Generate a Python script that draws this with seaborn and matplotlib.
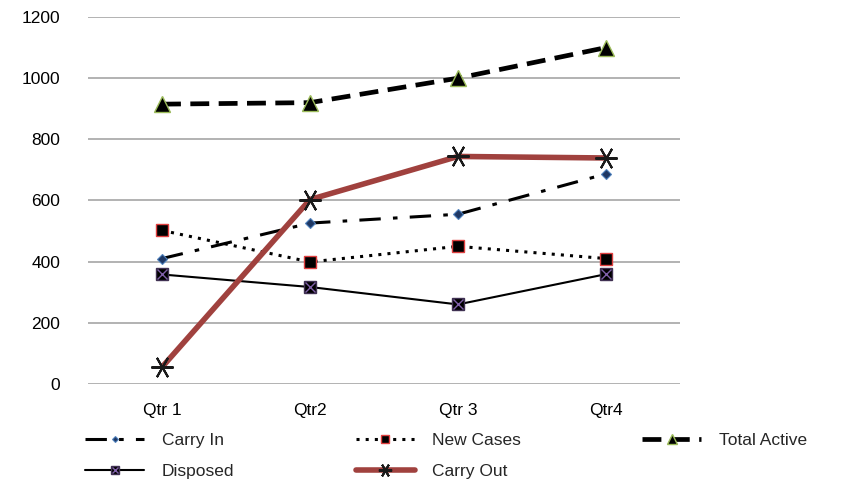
import numpy as np
import pandas as pd
import matplotlib
matplotlib.use("Agg")
import matplotlib.pyplot as plt
import seaborn as sns
from matplotlib.legend_handler import HandlerTuple

quarters = ["Qtr 1", "Qtr2", "Qtr 3", "Qtr4"]
carry_in = [410, 526, 555, 687]
new_cases = [502, 399, 450, 410]
total_active = [915, 920, 1000, 1100]
disposed = [358, 317, 260, 359]
carry_out = [55, 603, 744, 739]

sns.set_theme(style="white")
plt.rcParams["font.family"] = ["Liberation Sans", "DejaVu Sans"]

fig = plt.figure(figsize=(8.52, 4.86), dpi=100)
ax = fig.add_axes([0.1033, 0.21, 0.6948, 0.755])

x = np.arange(len(quarters))

# grid first so lines sit on top
for v in range(0, 1201, 200):
    ax.axhline(v, color="#a6a6a6", lw=1.2, zorder=0)

h_in = sns.lineplot(x=x, y=carry_in, ax=ax, color="black", lw=2.2,
                    linestyle=(0, (7, 4, 1.5, 4)),
                    marker="D", markersize=5, markerfacecolor="#1f3864",
                    markeredgecolor="#4f81bd", markeredgewidth=0.8).lines[-1]
h_new = sns.lineplot(x=x, y=new_cases, ax=ax, color="black", lw=2.2,
                     linestyle=(0, (1, 2)),
                     marker="s", markersize=9, markerfacecolor="black",
                     markeredgecolor="#e04040", markeredgewidth=1.0).lines[-1]
h_tot = sns.lineplot(x=x, y=total_active, ax=ax, color="black", lw=3.4,
                     linestyle=(0, (4, 2)),
                     marker="^", markersize=12, markerfacecolor="black",
                     markeredgecolor="#9bbb59", markeredgewidth=1.0).lines[-1]
h_dis = sns.lineplot(x=x, y=disposed, ax=ax, color="black", lw=1.5,
                     marker="s", markersize=9, markerfacecolor="black",
                     markeredgecolor="#403152", markeredgewidth=1.0).lines[-1]
h_dis_x, = ax.plot(x, disposed, linestyle="none", marker="x", markersize=7,
                   markeredgecolor="#7f5fa8", markeredgewidth=1.0, zorder=5)
h_out = sns.lineplot(x=x, y=carry_out, ax=ax, color="#a0413e", lw=4,
                     marker=(6, 2, 90), markersize=16,
                     markeredgecolor="#1a1a1a", markeredgewidth=1.5).lines[-1]

ax.set_xlim(-0.5, 3.5)
ax.set_ylim(0, 1200)
ax.set_yticks(range(0, 1201, 200))
ax.set_xticks(x)
ax.set_xticklabels(quarters)
ax.tick_params(axis="both", length=0, labelsize=12.5, colors="black")
ax.tick_params(axis="y", pad=20)
ax.tick_params(axis="x", pad=14)
for s in ax.spines.values():
    s.set_visible(False)
ax.set_xlabel("")
ax.set_ylabel("")

# column-major fill: gives rows Carry In/New Cases/Total Active, Disposed/Carry Out
handles = [h_in, (h_dis, h_dis_x), h_new, h_out, h_tot]
labels = ["Carry In", "Disposed", "New Cases", "Carry Out", "Total Active"]
fig.legend(handles, labels, loc="upper left", bbox_to_anchor=(0.1, 0.11),
           ncol=3, frameon=False, fontsize=12.5, handlelength=3.4,
           handletextpad=1.0, columnspacing=7.0, labelspacing=0.95,
           markerscale=0.6,
           handler_map={tuple: HandlerTuple(ndivide=1, pad=0)},
           borderaxespad=0, borderpad=0)

fig.savefig("out.png", dpi=100)
